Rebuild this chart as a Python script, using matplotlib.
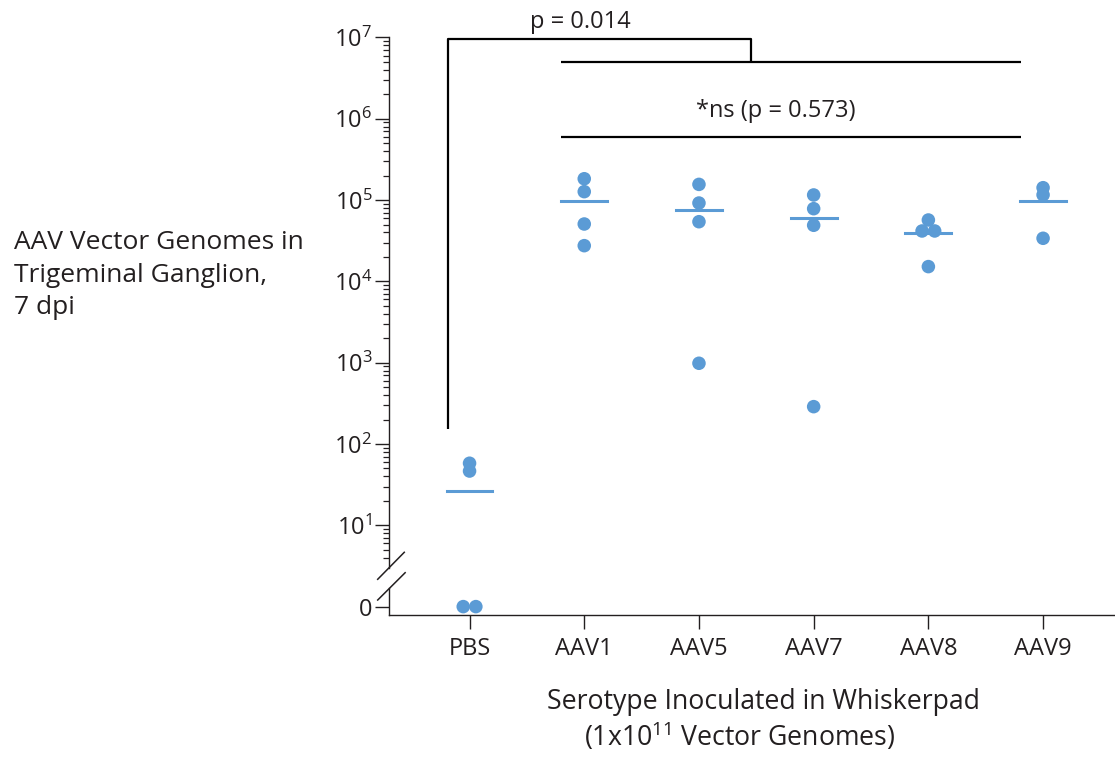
import numpy as np
import matplotlib
matplotlib.use("Agg")
import matplotlib.pyplot as plt

plt.rcParams['font.family'] = ['Open Sans', 'DejaVu Sans']
INK = '#231f20'
BLUE = '#5b9bd5'

# data (vector genomes per TG, 7 dpi)
groups = ['PBS', 'AAV1', 'AAV5', 'AAV7', 'AAV8', 'AAV9']
pbs = [58, 46.5, 0, 0]
aav1 = [1.83e5, 1.27e5, 5.08e4, 2.75e4]
aav5 = [1.56e5, 9.2e4, 5.42e4, 984]
aav7 = [1.156e5, 7.84e4, 4.90e4, 288]
aav8 = [5.69e4, 4.17e4, 4.17e4, 1.52e4]
aav9 = [1.42e5, 1.16e5, 3.39e4]
values = [pbs, aav1, aav5, aav7, aav8, aav9]

y_ticks = [1, 1e1, 1e2, 1e3, 1e4, 1e5, 1e6, 1e7]
y_ticklabels = ['0'] + [r'$\mathregular{10^{%d}}$' % k for k in range(1, 8)]

fig = plt.figure(figsize=(11.15, 7.57), dpi=100)
ax = fig.add_axes([0.3489, 0.1876, 0.6511, 0.7629])
ax.set_yscale('log')
ax.set_ylim(10 ** -0.103, 1e7)
ax.set_xlim(-0.702, 5.627)

for i, vals in enumerate(values):
    vals = np.array(vals, dtype=float)
    xs = np.full(len(vals), float(i))
    # nudge identical values apart so both dots show
    for v in np.unique(vals):
        idx = np.where(vals == v)[0]
        if len(idx) > 1:
            xs[idx] += np.linspace(-0.055, 0.055, len(idx))
    ys = np.where(vals == 0, 1.0, vals)
    ax.scatter(xs, ys, s=95, color=BLUE, edgecolors='none', zorder=3, clip_on=False)
    ax.plot([i - 0.2, i + 0.2], [vals.mean()] * 2, color=BLUE, lw=2.2, zorder=2)

# axes styling
for side in ['top', 'right', 'left']:
    ax.spines[side].set_visible(False)
ax.spines['bottom'].set_color(INK)
ax.spines['bottom'].set_linewidth(1.0)

yt = ax.get_yaxis_transform()
ax.plot([0, 0], [1e7, 10 ** 0.475], transform=yt, color=INK, lw=1.0, clip_on=False)
ax.plot([0, 0], [10 ** 0.229, 10 ** -0.103], transform=yt, color=INK, lw=1.0, clip_on=False)
# break marks
ax.plot([-0.0156, 0.0210], [10 ** 0.336, 10 ** 0.668], transform=yt, color=INK, lw=1.1, clip_on=False)
ax.plot([-0.0156, 0.0222], [10 ** 0.081, 10 ** 0.417], transform=yt, color=INK, lw=1.1, clip_on=False)

ax.set_yticks(y_ticks)
ax.set_yticklabels(y_ticklabels)
minor = [m * 10 ** d for d in range(0, 7) for m in range(2, 10)]
minor = [m for m in minor if m > 3.5]
ax.set_yticks(minor, minor=True)
ax.tick_params(axis='y', which='major', length=10, width=1.0, color=INK, labelsize=17, labelcolor=INK, pad=2)
ax.tick_params(axis='y', which='minor', length=4.5, width=0.9, color=INK)

ax.set_xticks(range(len(groups)))
ax.set_xticklabels(groups)
ax.tick_params(axis='x', length=10, width=1.0, color=INK, labelsize=17, labelcolor=INK, pad=6)

# significance brackets
k = dict(color='black', lw=1.6, clip_on=False, solid_capstyle='butt')
ax.plot([-0.19, -0.19, 2.452, 2.452], [10 ** 2.181, 10 ** 6.978, 10 ** 6.978, 10 ** 6.695], **k)
ax.plot([0.798, 4.804], [10 ** 6.695, 10 ** 6.695], **k)
ax.plot([0.798, 4.804], [10 ** 5.780, 10 ** 5.780], **k)
ax.text(0.963, 10 ** 7.117, 'p = 0.014', ha='center', va='baseline', fontsize=17, color=INK, clip_on=False)
ax.text(2.672, 10 ** 6.022, '*ns (p = 0.573)', ha='center', va='baseline', fontsize=17, color=INK)

# axis titles
fig.text(14 / 1115, 1 - 230 / 757, 'AAV Vector Genomes in\nTrigeminal Ganglion,\n7 dpi',
         ha='left', va='top', fontsize=19, color=INK, linespacing=1.4)
fig.text(763.5 / 1115, 1 - 709 / 757, 'Serotype Inoculated in Whiskerpad',
         ha='center', va='baseline', fontsize=19.2, color=INK)
fig.text(584 / 1115, 1 - 746 / 757, r'(1x$\mathregular{10^{11}}$ Vector Genomes)',
         ha='left', va='baseline', fontsize=19.2, color=INK)

fig.savefig('out.png', dpi=100)
